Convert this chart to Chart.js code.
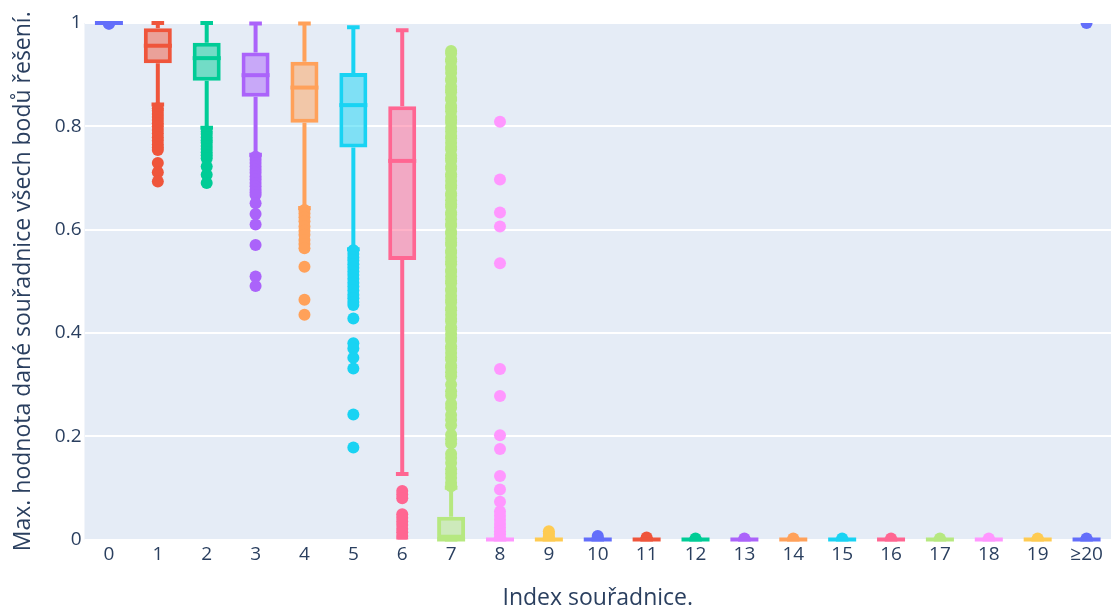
<!DOCTYPE html>
<html>
<head>
<meta charset="utf-8">
<script src="https://cdn.jsdelivr.net/npm/chart.js@4.4.1/dist/chart.umd.min.js"></script>
<style>
  html, body { margin: 0; padding: 0; background: #ffffff; }
  #wrap { width: 1111px; height: 612px; }
</style>
</head>
<body>
<div id="wrap"><canvas id="chart" width="1111" height="612"></canvas></div>
<script>
// Coordinate index categories
const categories = ['0','1','2','3','4','5','6','7','8','9','10','11','12','13','14','15','16','17','18','19','≥20'];

// Box statistics per coordinate (lower quartile, median, upper quartile, whisker ends)
const q1     = [1, 0.922, 0.888, 0.857, 0.807, 0.759, 0.541, 0, 0, 0, 0, 0, 0, 0, 0, 0, 0, 0, 0, 0, 0];
const median = [1, 0.956, 0.932, 0.899, 0.875, 0.841, 0.733, 0, 0, 0, 0, 0, 0, 0, 0, 0, 0, 0, 0, 0, 0];
const q3     = [1, 0.990, 0.962, 0.943, 0.925, 0.903, 0.839, 0.044, 0, 0, 0, 0, 0, 0, 0, 0, 0, 0, 0, 0, 0];
const lowerWhisker = [1, 0.842, 0.797, 0.745, 0.642, 0.562, 0.127, 0, 0, 0, 0, 0, 0, 0, 0, 0, 0, 0, 0, 0, 0];
const upperWhisker = [1, 1, 1, 0.999, 0.999, 0.992, 0.986, 0.100, 0, 0, 0, 0, 0, 0, 0, 0, 0, 0, 0, 0, 0];

// Outlying maxima per coordinate
const outliers = [
  [0.999, 0.9985],
  [0.835, 0.830, 0.824, 0.818, 0.812, 0.806, 0.800, 0.793, 0.786, 0.779, 0.772, 0.765, 0.759, 0.754, 0.729, 0.711, 0.693],
  [0.790, 0.785, 0.779, 0.773, 0.768, 0.762, 0.756, 0.750, 0.744, 0.738, 0.722, 0.706, 0.690],
  [0.741, 0.735, 0.729, 0.722, 0.716, 0.710, 0.703, 0.697, 0.690, 0.684, 0.677, 0.672, 0.667, 0.651, 0.630, 0.610, 0.570, 0.509, 0.491],
  [0.638, 0.631, 0.624, 0.616, 0.606, 0.598, 0.590, 0.580, 0.572, 0.564, 0.528, 0.464, 0.435],
  [0.560, 0.553, 0.546, 0.540, 0.533, 0.526, 0.519, 0.512, 0.505, 0.497, 0.490, 0.482, 0.474, 0.467, 0.460, 0.454, 0.428, 0.380, 0.370, 0.352, 0.331, 0.242, 0.178],
  [0.094, 0.087, 0.080, 0.049, 0.042, 0.035, 0.028, 0.021, 0.014, 0.007, 0.001],
  [0.946, 0.941, 0.930, 0.926, 0.915, 0.911, 0.903, 0.892, 0.888, 0.877, 0.871, 0.866, 0.855, 0.851, 0.840, 0.836, 0.829, 0.818, 0.812, 0.807,
   0.797, 0.790, 0.781, 0.777, 0.768, 0.760, 0.755, 0.744, 0.738, 0.733, 0.722, 0.718, 0.707, 0.703, 0.694, 0.686, 0.681, 0.670, 0.666, 0.657,
   0.649, 0.644, 0.633, 0.629, 0.620, 0.611, 0.607, 0.596, 0.592, 0.583, 0.575, 0.570, 0.559, 0.555, 0.546, 0.538, 0.533, 0.522, 0.518, 0.509,
   0.501, 0.496, 0.485, 0.481, 0.472, 0.464, 0.459, 0.448, 0.444, 0.435, 0.427, 0.422, 0.411, 0.407, 0.398, 0.390, 0.385, 0.374, 0.370, 0.361,
   0.353, 0.348, 0.337, 0.333, 0.324, 0.316, 0.300, 0.287, 0.279, 0.263, 0.255, 0.241, 0.232, 0.221, 0.203, 0.194, 0.186, 0.166, 0.158, 0.148,
   0.136, 0.128, 0.119, 0.110, 0.103],
  [0.809, 0.697, 0.633, 0.606, 0.535, 0.330, 0.278, 0.202, 0.175, 0.123, 0.097, 0.073, 0.054, 0.046, 0.038, 0.030, 0.023, 0.016, 0.010, 0.004],
  [0.016, 0.011, 0.006, 0.002],
  [0.007, 0.003],
  [0.004, 0.001],
  [0.002],
  [0.002],
  [0.002],
  [0.002],
  [0.002],
  [0.002],
  [0.002],
  [0.002],
  [1.0, 0.002]
];

// Y axis tick values
const yTicks = [0, 0.2, 0.4, 0.6, 0.8, 1];

const palette = ['#636efa', '#EF553B', '#00cc96', '#ab63fa', '#FFA15A', '#19d3f3', '#FF6692', '#B6E880', '#FF97FF', '#FECB52'];
const lineColors = categories.map((_, i) => palette[i % palette.length]);
function withAlpha(hex, a) {
  const n = parseInt(hex.slice(1), 16);
  return `rgba(${(n >> 16) & 255}, ${(n >> 8) & 255}, ${n & 255}, ${a})`;
}
const fillColors = lineColors.map(c => withAlpha(c, 0.5));

const FONT = '"Open Sans", sans-serif';
const TEXT = '#2a3f5f';
const LINE_W = 4;

// Plot area background
const plotBackground = {
  id: 'plotBackground',
  beforeDraw(chart) {
    const { ctx, chartArea: a } = chart;
    ctx.save();
    ctx.fillStyle = '#E5ECF6';
    ctx.fillRect(a.left, a.top, a.right - a.left, a.bottom - a.top);
    ctx.restore();
  }
};

// Whiskers, caps and medians, placed through the chart's scales
const boxWhiskers = {
  id: 'boxWhiskers',
  beforeDatasetsDraw(chart) {
    const { ctx, scales: { x, y } } = chart;
    const bars = chart.getDatasetMeta(0).data;
    ctx.save();
    ctx.lineWidth = LINE_W;
    ctx.lineCap = 'butt';
    categories.forEach((_, i) => {
      const cx = x.getPixelForValue(i);
      const capHalf = bars[i].width * 0.45 / 2;
      const yUp = y.getPixelForValue(upperWhisker[i]);
      const yLo = y.getPixelForValue(lowerWhisker[i]);
      ctx.strokeStyle = lineColors[i];
      ctx.beginPath();
      ctx.moveTo(cx, y.getPixelForValue(q3[i]));
      ctx.lineTo(cx, yUp);
      ctx.moveTo(cx, y.getPixelForValue(q1[i]));
      ctx.lineTo(cx, yLo);
      ctx.moveTo(cx - capHalf, yUp);
      ctx.lineTo(cx + capHalf, yUp);
      ctx.moveTo(cx - capHalf, yLo);
      ctx.lineTo(cx + capHalf, yLo);
      ctx.stroke();
    });
    ctx.restore();
  },
  afterDatasetsDraw(chart) {
    const { ctx, scales: { x, y } } = chart;
    const bars = chart.getDatasetMeta(0).data;
    ctx.save();
    ctx.lineWidth = LINE_W;
    categories.forEach((_, i) => {
      const cx = x.getPixelForValue(i);
      const half = bars[i].width / 2;
      const ym = y.getPixelForValue(median[i]);
      ctx.strokeStyle = lineColors[i];
      ctx.beginPath();
      ctx.moveTo(cx - half, ym);
      ctx.lineTo(cx + half, ym);
      ctx.stroke();
    });
    ctx.restore();
  }
};

const boxDataset = {
  type: 'bar',
  data: categories.map((_, i) => [q1[i], q3[i]]),
  backgroundColor: fillColors,
  borderColor: lineColors,
  borderWidth: LINE_W,
  borderSkipped: false,
  barPercentage: 0.573,
  categoryPercentage: 1,
  order: 2
};

const pointDatasets = outliers.map((vals, i) => ({
  type: 'scatter',
  data: vals.map(v => ({ x: categories[i], y: v })),
  backgroundColor: lineColors[i],
  borderWidth: 0,
  pointRadius: 6,
  pointHoverRadius: 6,
  clip: 0,
  order: 1
}));

new Chart(document.getElementById('chart'), {
  type: 'bar',
  data: { labels: categories, datasets: [boxDataset, ...pointDatasets] },
  options: {
    responsive: false,
    animation: false,
    events: [],
    layout: { autoPadding: false, padding: { top: 23, left: 0, right: 0, bottom: 0 } },
    plugins: { legend: { display: false }, tooltip: { enabled: false } },
    scales: {
      x: {
        type: 'category',
        offset: true,
        grid: { display: false, drawTicks: false },
        border: { display: false },
        ticks: { color: TEXT, font: { family: FONT, size: 19 }, padding: 4, maxRotation: 0, autoSkip: false },
        title: { display: true, text: 'Index souřadnice.', color: TEXT, font: { family: FONT, size: 23 }, padding: { top: 0, bottom: 0 } },
        afterFit(scale) { scale.height = 72.5; }
      },
      y: {
        min: 0,
        max: 1,
        afterBuildTicks(scale) { scale.ticks = yTicks.map(v => ({ value: v })); },
        grid: { color: '#ffffff', lineWidth: 2, drawTicks: false },
        border: { display: false },
        ticks: {
          color: TEXT,
          font: { family: FONT, size: 19 },
          padding: 3,
          callback: v => String(+v.toFixed(1))
        },
        title: { display: true, text: 'Max. hodnota dané souřadnice všech bodů řešení.', color: TEXT, font: { family: FONT, size: 23 }, padding: { top: 10, bottom: 0 } },
        afterFit(scale) { scale.width = 84.5; }
      }
    }
  },
  plugins: [plotBackground, boxWhiskers]
});
</script>
</body>
</html>
